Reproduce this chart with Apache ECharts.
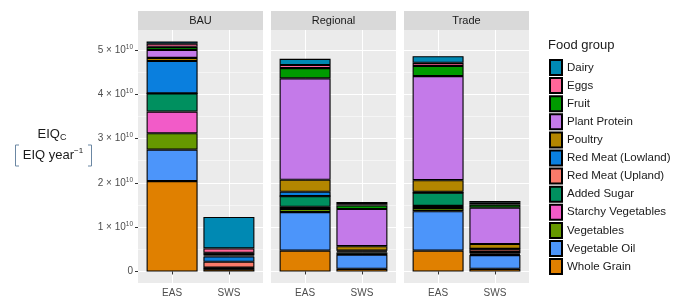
<!DOCTYPE html>
<html>
<head>
<meta charset="utf-8">
<script src="https://cdn.jsdelivr.net/npm/echarts@6/dist/echarts.min.js"></script>
<style>
  html, body { margin: 0; padding: 0; background: #fff; }
  #main { width: 673px; height: 300px; }
</style>
</head>
<body>
<div id="main"></div>
<script>
  // legend order (top of stack first)
  const foodGroups = ['Dairy', 'Eggs', 'Fruit', 'Plant Protein', 'Poultry', 'Red Meat (Lowland)',
    'Red Meat (Upland)', 'Added Sugar', 'Starchy Vegetables', 'Vegetables', 'Vegetable Oil', 'Whole Grain']
  const groupColors = ['#0089b3', '#ff6699', '#009a00', '#c47ae9', '#b38600', '#0a7fde',
    '#fa7a6a', '#00905f', '#f25bc8', '#669900', '#4c95fa', '#e08000']
  const scenarios = ['BAU', 'Regional', 'Trade']
  const regions = ['EAS', 'SWS']
  const yTicks = [0, 1, 2, 3, 4, 5]
  const yMinorTicks = [0.5, 1.5, 2.5, 3.5, 4.5]
  const UNIT = 1e10

  // EIQc in 1e10 EIQ/year, same order as foodGroups
  const bauEAS = [0.05, 0.07, 0.07, 0.18, 0.07, 0.73, 0, 0.41, 0.49, 0.37, 0.71, 2.04]
  const bauSWS = [0.71, 0.10, 0.01, 0.05, 0.02, 0.12, 0.13, 0.01, 0.01, 0.01, 0.01, 0.05]
  const regionalEAS = [0.14, 0.07, 0.23, 2.29, 0.27, 0.10, 0, 0.24, 0.05, 0.07, 0.87, 0.47]
  const regionalSWS = [0.05, 0.03, 0.08, 0.84, 0.10, 0.02, 0.02, 0.03, 0.01, 0.01, 0.32, 0.06]
  const tradeEAS = [0.15, 0.07, 0.23, 2.35, 0.26, 0.02, 0, 0.30, 0.05, 0.07, 0.89, 0.47]
  const tradeSWS = [0.04, 0.04, 0.07, 0.82, 0.11, 0.01, 0.06, 0.03, 0.02, 0.02, 0.31, 0.06]

  const panels = [[bauEAS, bauSWS], [regionalEAS, regionalSWS], [tradeEAS, tradeSWS]]

  const font = '"Liberation Sans", Arial, sans-serif'
  const panelLeft = [138, 271, 404]
  const panelWidth = 125
  const panelTop = 30
  const panelHeight = 253

  // ggplot-like discrete axis: 12 slots with boundaryGap off, regions sit at slots 3 and 8
  const slotCount = 12
  const regionSlot = [3, 8]
  const slots = Array.from({length: slotCount}, (_, i) => {
    let r = regionSlot.indexOf(i)
    return r >= 0 ? regions[r] : '_' + i
  })
  const isRegionSlot = i => regionSlot.indexOf(i) >= 0

  const grids = []
  const xAxes = []
  const yAxes = []
  const series = []
  const graphics = []

  scenarios.forEach((name, p) => {
    grids.push({
      left: panelLeft[p], top: panelTop, width: panelWidth, height: panelHeight,
      show: true, backgroundColor: '#ebebeb', borderWidth: 0
    })
    xAxes.push({
      gridIndex: p, type: 'category', boundaryGap: false, data: slots,
      axisLine: {show: false},
      axisTick: {show: true, length: 3, interval: isRegionSlot, lineStyle: {color: '#333', width: 1}},
      axisLabel: {interval: isRegionSlot, margin: 5, fontSize: 10, color: '#4d4d4d', fontFamily: font},
      splitLine: {show: true, interval: isRegionSlot, lineStyle: {color: '#fff', width: 1.1}}
    })
    yAxes.push({
      gridIndex: p, type: 'value', min: -0.26 * UNIT, max: 5.45 * UNIT,
      axisLine: {show: false},
      axisTick: {show: p === 0, length: 3, customValues: yTicks.map(v => v * UNIT), lineStyle: {color: '#333'}},
      axisLabel: {
        show: p === 0, margin: 5, customValues: yTicks.map(v => v * UNIT),
        formatter: v => {
          let n = Math.round(v / UNIT)
          return n === 0 ? '{n|0}' : '{n|' + n + ' \u00d7 10}{s|10}'
        },
        rich: {
          n: {fontSize: 10, color: '#4d4d4d', fontFamily: font, lineHeight: 13},
          s: {fontSize: 6.5, color: '#4d4d4d', fontFamily: font, verticalAlign: 'top', lineHeight: 13}
        }
      },
      splitLine: {show: true, lineStyle: {color: '#fff', width: 1.1}}
    })
    yAxes.push({
      gridIndex: p, type: 'value', min: -0.26 * UNIT, max: 5.45 * UNIT, position: 'left',
      axisLine: {show: false},
      axisTick: {show: false, customValues: yMinorTicks.map(v => v * UNIT)},
      axisLabel: {show: false},
      splitLine: {show: true, lineStyle: {color: '#fff', width: 0.5}}
    })

    // bottom of stack first: Whole Grain ... Dairy
    for (let g = foodGroups.length - 1; g >= 0; g--) {
      let data = slots.map(() => '-')
      regionSlot.forEach((s, i) => { data[s] = panels[p][i][g] * UNIT })
      series.push({
        type: 'bar',
        name: foodGroups[g],
        stack: 'panel' + p,
        xAxisIndex: p,
        yAxisIndex: p * 2,
        barWidth: 51,
        itemStyle: {color: groupColors[g], borderColor: '#000', borderWidth: 1.1},
        data: data
      })
    }

    // facet strip
    graphics.push({
      type: 'rect', left: panelLeft[p], top: 11, silent: true,
      shape: {width: panelWidth, height: 19}, style: {fill: '#d9d9d9'}
    })
    graphics.push({
      type: 'text', x: panelLeft[p] + panelWidth / 2, y: 21, silent: true,
      style: {text: name, align: 'center', verticalAlign: 'middle', fontSize: 11, fill: '#1a1a1a', fontFamily: font}
    })
  })

  // y axis title
  graphics.push({
    type: 'text', x: 52, y: 134,
    style: {
      text: '{a|EIQ}{b|C}', align: 'center', verticalAlign: 'middle',
      rich: {
        a: {fontSize: 13, fill: '#1a1a1a', fontFamily: font, lineHeight: 16},
        b: {fontSize: 9, fill: '#1a1a1a', fontFamily: font, verticalAlign: 'bottom', lineHeight: 12}
      }
    }
  })
  graphics.push({
    type: 'text', x: 53, y: 155,
    style: {
      text: '{a|EIQ year}{b|\u22121}', align: 'center', verticalAlign: 'middle',
      rich: {
        a: {fontSize: 13, fill: '#1a1a1a', fontFamily: font, lineHeight: 16},
        b: {fontSize: 8, fill: '#1a1a1a', fontFamily: font, verticalAlign: 'top', lineHeight: 16}
      }
    }
  })
  graphics.push({
    type: 'polyline', shape: {points: [[19, 145], [15.5, 145], [15.5, 166], [19, 166]]},
    style: {stroke: '#6b87a3', lineWidth: 1, fill: null}
  })
  graphics.push({
    type: 'polyline', shape: {points: [[88, 145], [91.5, 145], [91.5, 166], [88, 166]]},
    style: {stroke: '#6b87a3', lineWidth: 1, fill: null}
  })
  // legend title
  graphics.push({
    type: 'text', x: 548, y: 45,
    style: {text: 'Food group', verticalAlign: 'middle', fontSize: 13, fill: '#1a1a1a', fontFamily: font}
  })

  const chart = echarts.init(document.getElementById('main'))
  chart.setOption({
    animation: false,
    backgroundColor: '#fff',
    grid: grids,
    xAxis: xAxes,
    yAxis: yAxes,
    legend: {
      orient: 'vertical', left: 544, top: 54, padding: 5,
      itemWidth: 12, itemHeight: 15, itemGap: 1.1, icon: 'rect',
      selectedMode: false,
      textStyle: {fontSize: 11.5, lineHeight: 13, color: '#1a1a1a', fontFamily: font},
      data: foodGroups
    },
    graphic: graphics,
    series: series
  })
</script>
</body>
</html>
